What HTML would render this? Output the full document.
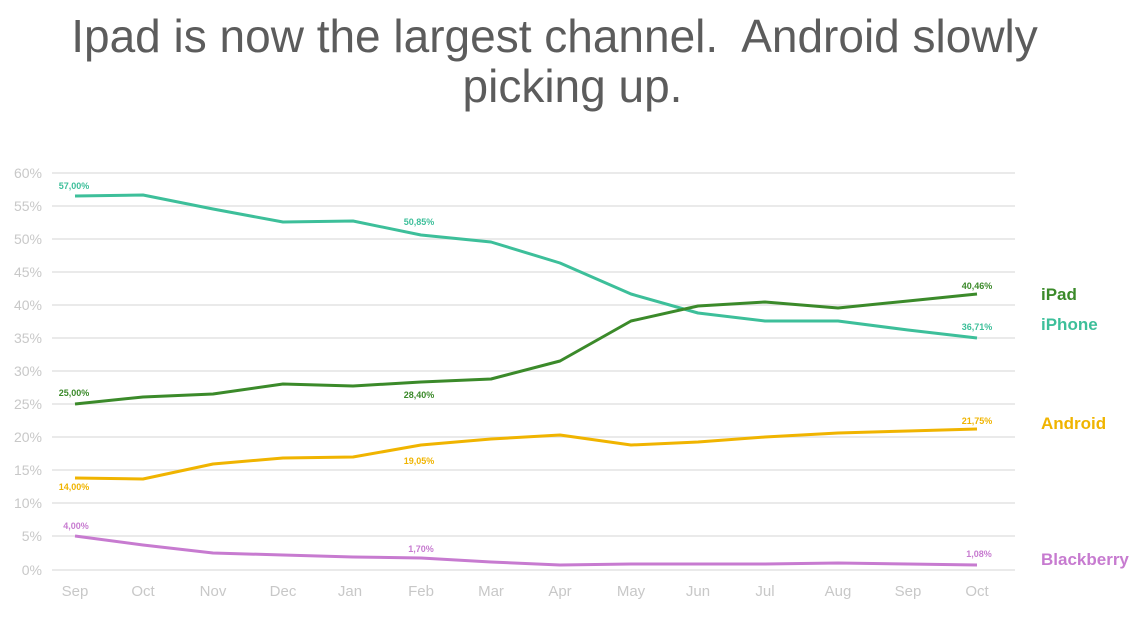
<!DOCTYPE html>
<html><head><meta charset="utf-8"><style>
body{margin:0;width:1139px;height:617px;background:#fff;overflow:hidden;font-family:"Liberation Sans",sans-serif}
.t{position:absolute;width:1139px;text-align:center;color:#5c5c5c;font-size:46px;line-height:46px;white-space:nowrap}
</style></head><body>
<div class="t" style="top:13px;left:-15px">Ipad is now the largest channel.&nbsp; Android slowly</div>
<div class="t" style="top:63px;left:3px">picking up.</div>
<svg width="1139" height="617" style="position:absolute;left:0;top:0" font-family="Liberation Sans, sans-serif">
<g stroke="#e3e3e3" stroke-width="1.5">
<line x1="52" x2="1015" y1="173" y2="173"/><line x1="52" x2="1015" y1="206" y2="206"/><line x1="52" x2="1015" y1="239" y2="239"/><line x1="52" x2="1015" y1="272" y2="272"/><line x1="52" x2="1015" y1="305" y2="305"/><line x1="52" x2="1015" y1="338" y2="338"/><line x1="52" x2="1015" y1="371" y2="371"/><line x1="52" x2="1015" y1="404" y2="404"/><line x1="52" x2="1015" y1="437" y2="437"/><line x1="52" x2="1015" y1="470" y2="470"/><line x1="52" x2="1015" y1="503" y2="503"/><line x1="52" x2="1015" y1="536" y2="536"/><line x1="52" x2="1015" y1="570" y2="570"/>
</g>
<g fill="#c8c8c8" font-size="14" text-anchor="end">
<text x="42" y="178">60%</text><text x="42" y="211">55%</text><text x="42" y="244">50%</text><text x="42" y="277">45%</text><text x="42" y="310">40%</text><text x="42" y="343">35%</text><text x="42" y="376">30%</text><text x="42" y="409">25%</text><text x="42" y="442">20%</text><text x="42" y="475">15%</text><text x="42" y="508">10%</text><text x="42" y="541">5%</text><text x="42" y="575">0%</text>
</g>
<g fill="#c8c8c8" font-size="15" text-anchor="middle">
<text x="75" y="596">Sep</text><text x="143" y="596">Oct</text><text x="213" y="596">Nov</text><text x="283" y="596">Dec</text><text x="350" y="596">Jan</text><text x="421" y="596">Feb</text><text x="491" y="596">Mar</text><text x="560" y="596">Apr</text><text x="631" y="596">May</text><text x="698" y="596">Jun</text><text x="765" y="596">Jul</text><text x="838" y="596">Aug</text><text x="908" y="596">Sep</text><text x="977" y="596">Oct</text>
</g>
<g fill="none" stroke-width="3" stroke-linejoin="round">
<polyline stroke="#3dbf9a" points="75,196 143,195 213,209 283,222 353,221 421,235 491,242 560,263 631,294 698,313 765,321 838,321 908,330 977,338"/>
<polyline stroke="#3b8a2a" points="75,404 143,397 213,394 283,384 353,386 421,382 491,379 560,361 631,321 698,306 765,302 838,308 908,301 977,294"/>
<polyline stroke="#f0b400" points="75,478 143,479 213,464 283,458 353,457 421,445 491,439 560,435 631,445 698,442 765,437 838,433 908,431 977,429"/>
<polyline stroke="#c77bd0" points="75,536 143,545 213,553 283,555 353,557 421,558 491,562 560,565 631,564 698,564 765,564 838,563 908,564 977,565"/>
</g>
<g font-size="9" font-weight="bold" text-anchor="middle">
<text x="74" y="189" fill="#3dbf9a">57,00%</text><text x="419" y="225" fill="#3dbf9a">50,85%</text><text x="977" y="330" fill="#3dbf9a">36,71%</text>
<text x="74" y="396" fill="#3b8a2a">25,00%</text><text x="419" y="398" fill="#3b8a2a">28,40%</text><text x="977" y="289" fill="#3b8a2a">40,46%</text>
<text x="74" y="490" fill="#f0b400">14,00%</text><text x="419" y="464" fill="#f0b400">19,05%</text><text x="977" y="424" fill="#f0b400">21,75%</text>
<text x="76" y="529" fill="#c77bd0">4,00%</text><text x="421" y="552" fill="#c77bd0">1,70%</text><text x="979" y="557" fill="#c77bd0">1,08%</text>
</g>
<g font-size="17" font-weight="bold">
<text x="1041" y="300" fill="#3b8a2a">iPad</text><text x="1041" y="330" fill="#3dbf9a">iPhone</text><text x="1041" y="429" fill="#f0b400">Android</text><text x="1041" y="565" fill="#c77bd0">Blackberry</text>
</g>
</svg>
</body></html>
